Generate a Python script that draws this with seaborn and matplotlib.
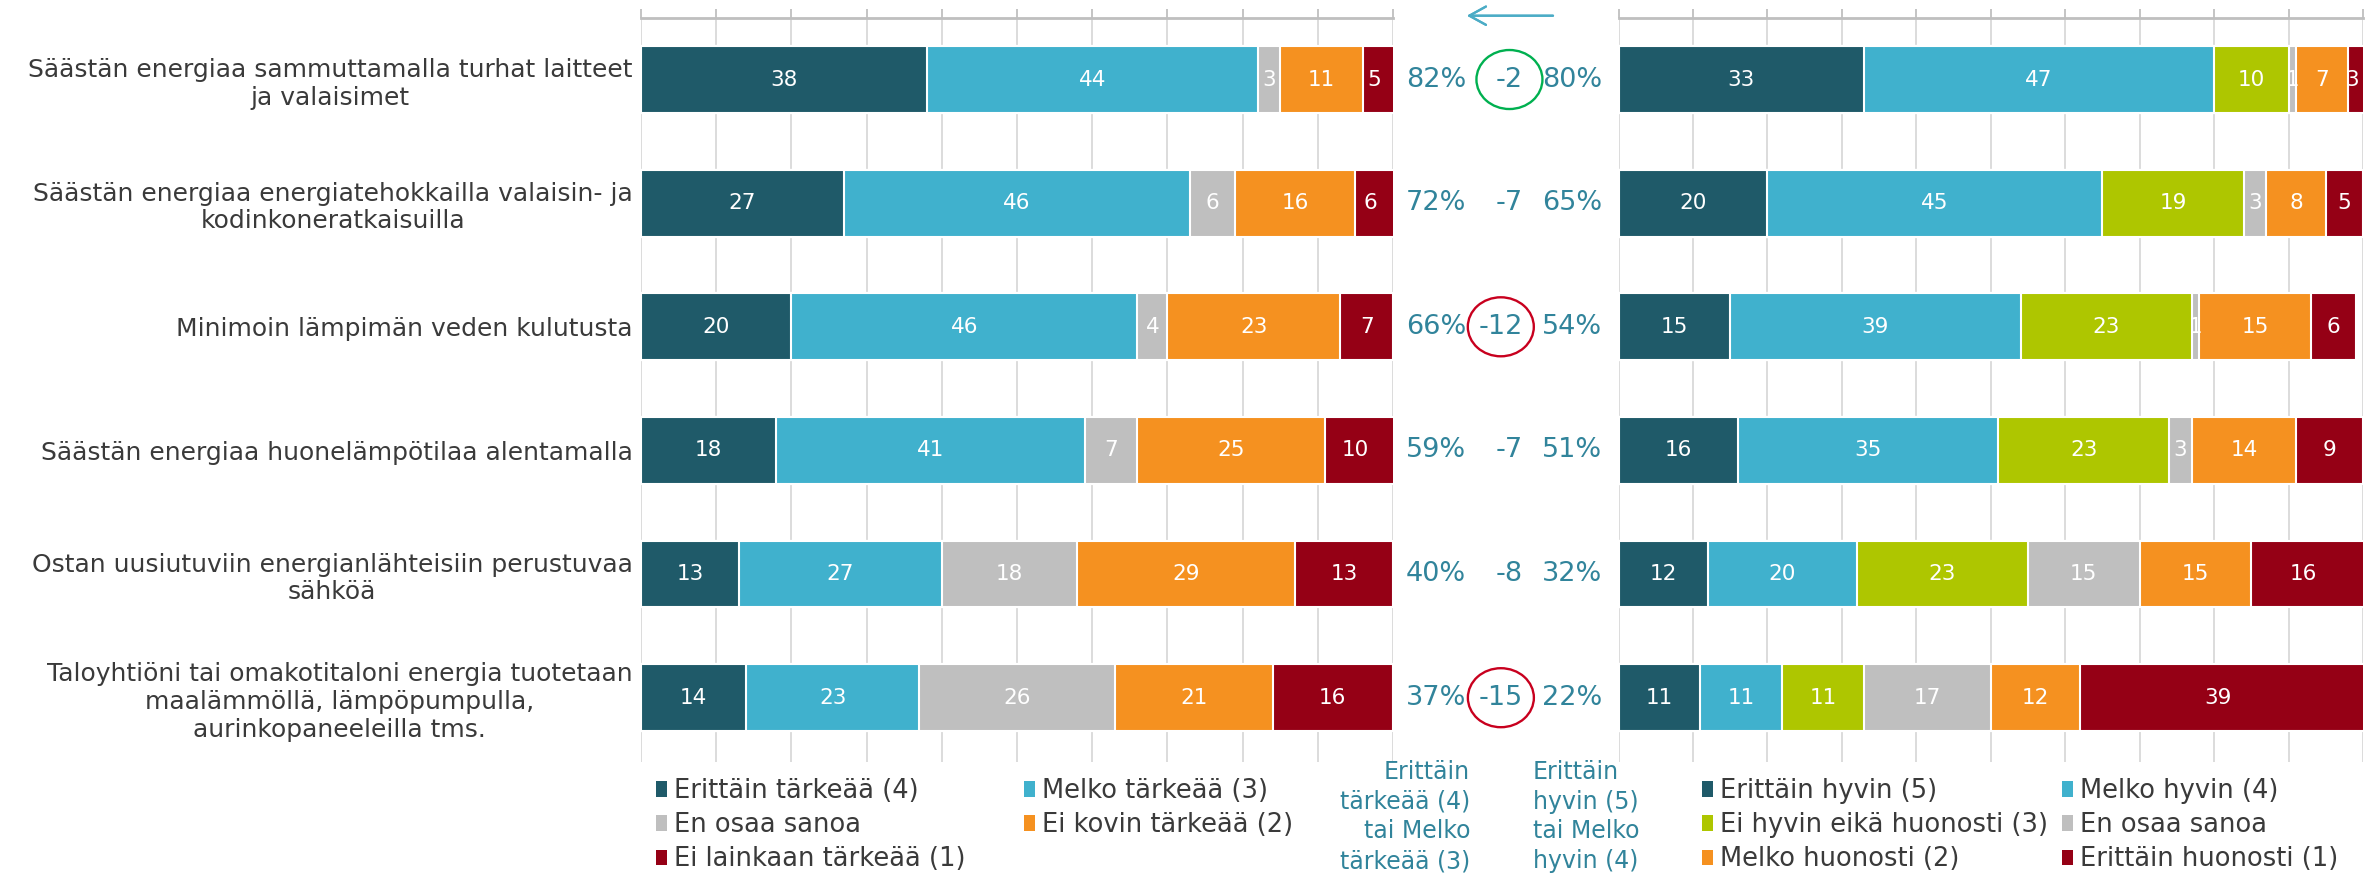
import matplotlib
matplotlib.use("Agg")
import matplotlib.pyplot as plt
from matplotlib.patches import Patch, Ellipse
from matplotlib.transforms import blended_transform_factory
import numpy as np
import pandas as pd
import seaborn as sns

# ---- data -----------------------------------------------------------------
categories = [
    "Säästän energiaa sammuttamalla turhat laitteet\nja valaisimet",
    "Säästän energiaa energiatehokkailla valaisin- ja\nkodinkoneratkaisuilla",
    "Minimoin lämpimän veden kulutusta",
    "Säästän energiaa huonelämpötilaa alentamalla",
    "Ostan uusiutuviin energianlähteisiin perustuvaa\nsähköä",
    "Taloyhtiöni tai omakotitaloni energia tuotetaan\nmaalämmöllä, lämpöpumpulla,\naurinkopaneeleilla tms.",
]

# importance (left panel)
imp_labels = ["Erittäin tärkeää (4)", "Melko tärkeää (3)", "En osaa sanoa",
              "Ei kovin tärkeää (2)", "Ei lainkaan tärkeää (1)"]
imp_4 = [38, 27, 20, 18, 13, 14]
imp_3 = [44, 46, 46, 41, 27, 23]
imp_eos = [3, 6, 4, 7, 18, 26]
imp_2 = [11, 16, 23, 25, 29, 21]
imp_1 = [5, 6, 7, 10, 13, 16]

# how well it is done (right panel)
done_labels = ["Erittäin hyvin (5)", "Melko hyvin (4)", "Ei hyvin eikä huonosti (3)",
               "En osaa sanoa", "Melko huonosti (2)", "Erittäin huonosti (1)"]
done_5 = [33, 20, 15, 16, 12, 11]
done_4 = [47, 45, 39, 35, 20, 11]
done_3 = [10, 19, 23, 23, 23, 11]
done_eos = [1, 3, 1, 3, 15, 17]
done_2 = [7, 8, 15, 14, 15, 12]
done_1 = [3, 5, 6, 9, 16, 39]

share_important = [82, 72, 66, 59, 40, 37]
share_done = [80, 65, 54, 51, 32, 22]
change = [-2, -7, -12, -7, -8, -15]
highlight = {0: "up", 2: "down", 5: "down"}

# ---- style ----------------------------------------------------------------
DARK = "#1f5a69"
LIGHT = "#40b1cd"
GRAY = "#bfbfbf"
ORANGE = "#f59120"
RED = "#950015"
LIME = "#aec600"
TEAL_TXT = "#31849b"
TEXT = "#3a3a3a"
ring_colors = {"up": "#00b050", "down": "#c8001e"}

sns.set_theme(style="white")
plt.rcParams["font.family"] = ["DejaVu Sans"]

W, H = 2377, 873
fig = plt.figure(figsize=(W / 100, H / 100), dpi=100)

top_px, bot_px = 17.7, 762
axL = fig.add_axes([641 / W, 1 - bot_px / H, (1393 - 641) / W, (bot_px - top_px) / H])
axR = fig.add_axes([1618.5 / W, 1 - bot_px / H, (2363 - 1618.5) / W, (bot_px - top_px) / H])


def stacked_panel(ax, series, colors):
    vals = np.array(series, dtype=float).T           # rows x segments
    cum = vals.cumsum(axis=1)
    df = pd.DataFrame({"cat": categories})
    # draw cumulative totals from the longest down so each segment stays visible
    for k in range(vals.shape[1] - 1, -1, -1):
        df["x"] = cum[:, k]
        sns.barplot(data=df, x="x", y="cat", orient="h", color=colors[k],
                    saturation=1, width=0.54, edgecolor="white", linewidth=1.5,
                    errorbar=None, ax=ax)
    for i in range(vals.shape[0]):
        for k in range(vals.shape[1]):
            v = vals[i, k]
            right = min(cum[i, k], 100)
            ax.text(right - v / 2, i, f"{int(v)}", ha="center", va="center",
                    color="white", fontsize=15.5, clip_on=False)
    ax.set_xlim(0, 100)
    ax.set_ylim(5.52, -0.5)
    ax.set_xticks(np.arange(0, 101, 10))
    ax.xaxis.tick_top()
    ax.tick_params(axis="x", direction="out", length=6.5, width=1.3, color="#bfbfbf",
                   labeltop=False, labelbottom=False, top=True, bottom=False)
    ax.tick_params(axis="y", length=0)
    ax.grid(axis="x", color="#d9d9d9", linewidth=1.3)
    ax.grid(axis="y", visible=False)
    ax.set_axisbelow(True)
    for s in ("left", "right", "bottom"):
        ax.spines[s].set_visible(False)
    ax.spines["top"].set_color("#bfbfbf")
    ax.spines["top"].set_linewidth(2)
    ax.set_xlabel("")
    ax.set_ylabel("")


stacked_panel(axL, [imp_4, imp_3, imp_eos, imp_2, imp_1], [DARK, LIGHT, GRAY, ORANGE, RED])
stacked_panel(axR, [done_5, done_4, done_3, done_eos, done_2, done_1],
              [DARK, LIGHT, LIME, GRAY, ORANGE, RED])

axL.tick_params(axis="y", pad=6, labelsize=18, labelcolor=TEXT)
for t in axL.get_yticklabels():
    t.set_multialignment("center")
axR.tick_params(axis="y", labelleft=False)

# ---- middle column: shares and change -------------------------------------
tr = blended_transform_factory(fig.transFigure, axL.transData)
diff_texts = []
for i in range(len(categories)):
    fig.text(1436 / W, i, f"{share_important[i]}%", transform=tr, ha="center",
             va="center", fontsize=19.5, color=TEAL_TXT)
    diff_texts.append(fig.text(1523 / W, i, f"{change[i]}", transform=tr, ha="right",
                               va="center", fontsize=19.5, color=TEAL_TXT))
    fig.text(1572 / W, i, f"{share_done[i]}%", transform=tr, ha="center",
             va="center", fontsize=19.5, color=TEAL_TXT)

fig.canvas.draw()
for i, kind in highlight.items():
    bb = diff_texts[i].get_window_extent()
    cx = (bb.x0 + bb.x1) / 2
    cy = axL.transData.transform((0, i))[1]
    fig.add_artist(Ellipse((cx / W, cy / H), 66 / W, 59 / H, transform=fig.transFigure,
                           fill=False, edgecolor=ring_colors[kind], linewidth=1.7))

# arrow showing the direction of the change
fig.add_artist(plt.annotate("", xy=(1467 / W, 1 - 15.7 / H), xytext=(1553 / W, 1 - 15.7 / H),
                            xycoords="figure fraction", textcoords="figure fraction",
                            arrowprops=dict(arrowstyle="->,head_length=0.6,head_width=0.33",
                                            color="#4bacc6", lw=1.6, mutation_scale=20,
                                            shrinkA=0, shrinkB=0)))

fig.text(1470 / W, 1 - 760 / H, "Erittäin\ntärkeää (4)\ntai Melko\ntärkeää (3)",
         ha="right", va="top", multialignment="right", linespacing=1.3,
         fontsize=17, color=TEAL_TXT)
fig.text(1533 / W, 1 - 760 / H, "Erittäin\nhyvin (5)\ntai Melko\nhyvin (4)",
         ha="left", va="top", multialignment="left", linespacing=1.3,
         fontsize=17, color=TEAL_TXT)

# ---- legends ----------------------------------------------------------------
imp_colors = dict(zip(imp_labels, [DARK, LIGHT, GRAY, ORANGE, RED]))
done_colors = dict(zip(done_labels, [DARK, LIGHT, LIME, GRAY, ORANGE, RED]))


def legend_column(names, cmap, x_px):
    handles = [Patch(facecolor=cmap[n], edgecolor="none") for n in names]
    fig.legend(handles, names, loc="upper left", bbox_to_anchor=(x_px / W, 1 - 778 / H),
               frameon=False, fontsize=18.5, labelcolor=TEXT, borderpad=0, borderaxespad=0,
               handlelength=0.42, handleheight=0.55, handletextpad=0.3, labelspacing=0.32)


legend_column([imp_labels[0], imp_labels[2], imp_labels[4]], imp_colors, 656)
legend_column([imp_labels[1], imp_labels[3]], imp_colors, 1024)
legend_column([done_labels[0], done_labels[2], done_labels[4]], done_colors, 1702)
legend_column([done_labels[1], done_labels[3], done_labels[5]], done_colors, 2062)

fig.savefig("out.png", dpi=100)
